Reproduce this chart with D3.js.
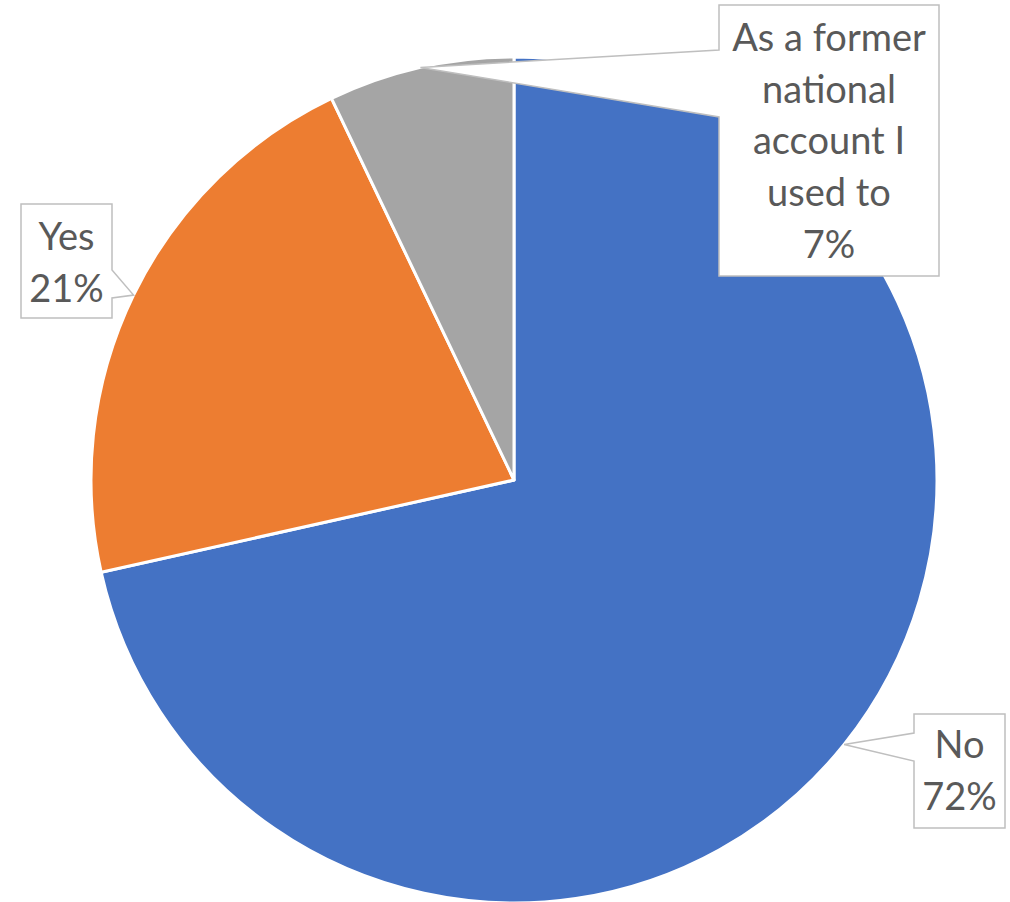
<!DOCTYPE html>
<html>
<head>
<meta charset="utf-8">
<script src="https://cdn.jsdelivr.net/npm/d3@7"></script>
<style>
  body { margin: 0; background: #fff; }
  svg { display: block; }
</style>
</head>
<body>
<script>
// survey answers, share in percent
const categories = ['No', 'Yes', 'As a former national account I used to']
const shares = [71.5, 21.4, 7.1]
const colors = ['#4472C4', '#ED7D31', '#A5A5A5']
const labelLines = [['No'], ['Yes'], ['As a former', 'national', 'account I', 'used to']]

const width = 1010
const height = 902
const cx = 514
const cy = 480
const radius = 423

// callout boxes: [x0, y0, x1, y1], side of the tail, tail y on box edge, first baseline
const callouts = [
  { box: [914, 714, 1005, 828], side: 'left', tail: [733, 761], base: 758 },
  { box: [21, 204, 112, 318], side: 'right', tail: [270, 298], base: 250 },
  { box: [719, 5, 939, 276], side: 'left', tail: [50, 117], base: 51 }
]
const lineGap = 51.7

const svg = d3.select('body')
  .append('svg')
  .attr('width', width)
  .attr('height', height)

const pie = d3.pie().sort(null).value(d => d)
const arcs = pie(shares)

const arc = d3.arc().innerRadius(0).outerRadius(radius)
const edge = d3.arc().innerRadius(radius).outerRadius(radius)

const g = svg.append('g').attr('transform', `translate(${cx},${cy})`)

g.selectAll('path')
  .data(arcs)
  .join('path')
    .attr('d', arc)
    .attr('fill', (d, i) => colors[i])
    .attr('stroke', '#fff')
    .attr('stroke-width', 3)
    .attr('stroke-linejoin', 'round')

// callouts with a pointer to the middle of each slice edge
const labels = svg.append('g')

callouts.forEach((c, i) => {
  let [tx, ty] = edge.centroid(arcs[i])
  tx += cx
  ty += cy
  let [x0, y0, x1, y1] = c.box
  let p = d3.path()
  if (c.side === 'left') {
    p.moveTo(x0, y0)
    p.lineTo(x1, y0)
    p.lineTo(x1, y1)
    p.lineTo(x0, y1)
    p.lineTo(x0, c.tail[1])
    p.lineTo(tx, ty)
    p.lineTo(x0, c.tail[0])
  } else {
    p.moveTo(x0, y0)
    p.lineTo(x1, y0)
    p.lineTo(x1, c.tail[0])
    p.lineTo(tx, ty)
    p.lineTo(x1, c.tail[1])
    p.lineTo(x1, y1)
    p.lineTo(x0, y1)
  }
  p.closePath()

  labels.append('path')
    .attr('d', p.toString())
    .attr('fill', '#fff')
    .attr('stroke', '#BFBFBF')
    .attr('stroke-width', 1.5)
    .attr('stroke-linejoin', 'miter')

  let lines = labelLines[i].concat([Math.round(shares[i]) + '%'])
  labels.append('text')
    .attr('text-anchor', 'middle')
    .attr('font-family', 'Lato, "Liberation Sans", sans-serif')
    .attr('font-size', 38)
    .attr('fill', '#595959')
    .selectAll('tspan')
    .data(lines)
    .join('tspan')
      .attr('x', (x0 + x1) / 2)
      .attr('y', (d, j) => c.base + j * lineGap)
      .text(d => d)
})
</script>
</body>
</html>
